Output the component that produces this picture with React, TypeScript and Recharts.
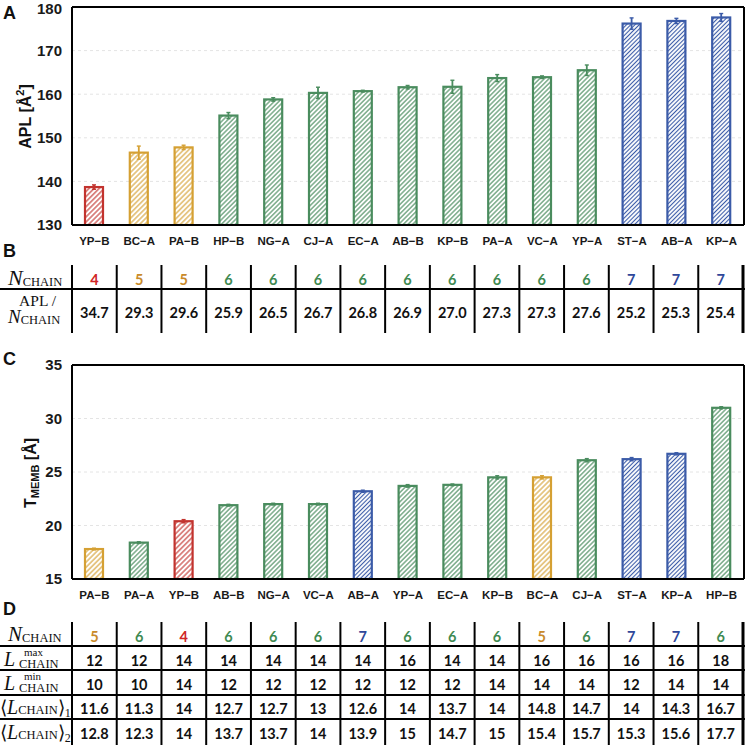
import React from 'react';
import { BarChart, Bar, XAxis, YAxis, CartesianGrid } from 'recharts';

// ---------- Panel A / B data ----------
const catsA = ['YP−B', 'BC−A', 'PA−B', 'HP−B', 'NG−A', 'CJ−A', 'EC−A', 'AB−B', 'KP−B', 'PA−A', 'VC−A', 'YP−A', 'ST−A', 'AB−A', 'KP−A'];
const aplValues = [138.7, 146.6, 147.8, 155.1, 158.8, 160.3, 160.7, 161.6, 161.7, 163.7, 163.9, 165.5, 176.2, 176.8, 177.6];
const aplErrors = [0.5, 1.5, 0.5, 0.7, 0.4, 1.3, 0.2, 0.4, 1.5, 0.8, 0.3, 1.2, 1.3, 0.6, 0.9];
const nChainA = [4, 5, 5, 6, 6, 6, 6, 6, 6, 6, 6, 6, 7, 7, 7];
const aplPerChain = ['34.7', '29.3', '29.6', '25.9', '26.5', '26.7', '26.8', '26.9', '27.0', '27.3', '27.3', '27.6', '25.2', '25.3', '25.4'];
const aplTicks = [130, 140, 150, 160, 170, 180];

// ---------- Panel C / D data ----------
const catsC = ['PA−B', 'PA−A', 'YP−B', 'AB−B', 'NG−A', 'VC−A', 'AB−A', 'YP−A', 'EC−A', 'KP−B', 'BC−A', 'CJ−A', 'ST−A', 'KP−A', 'HP−B'];
const tmembValues = [17.8, 18.4, 20.4, 21.9, 22.0, 22.0, 23.2, 23.7, 23.8, 24.5, 24.5, 26.1, 26.2, 26.7, 31.0];
const tmembErrors = [0.08, 0.08, 0.15, 0.08, 0.08, 0.08, 0.1, 0.12, 0.08, 0.15, 0.15, 0.15, 0.15, 0.1, 0.1];
const nChainC = [5, 6, 4, 6, 6, 6, 7, 6, 6, 6, 5, 6, 7, 7, 6];
const lMax = ['12', '12', '14', '14', '14', '14', '14', '16', '14', '14', '16', '16', '16', '16', '18'];
const lMin = ['10', '10', '14', '12', '12', '12', '12', '12', '12', '14', '14', '14', '12', '14', '14'];
const lAvg1 = ['11.6', '11.3', '14', '12.7', '12.7', '13', '12.6', '14', '13.7', '14', '14.8', '14.7', '14', '14.3', '16.7'];
const lAvg2 = ['12.8', '12.3', '14', '13.7', '13.7', '14', '13.9', '15', '14.7', '15', '15.4', '15.7', '15.3', '15.6', '17.7'];
const tmembTicks = [15, 20, 25, 30, 35];

// ---------- styles ----------
const BAR_COLORS: Record<number, string> = { 4: '#c2332e', 5: '#d5a033', 6: '#4a8c5e', 7: '#3b5ba8' };
const TEXT_COLORS: Record<number, string> = { 4: '#d02626', 5: '#c98a2a', 6: '#3f8a52', 7: '#2f479a' };
const HATCH: Record<number, number> = { 4: 3.6, 5: 3.6, 6: 3.3, 7: 3.0 };

const W = 747;
const H = 745;
const PLOT_L = 72;
const PLOT_R = 743;
const NCOL = 15;
const BAND = (PLOT_R - PLOT_L) / NCOL;
const colX = (i: number) => PLOT_L + (i + 0.5) * BAND;

const dataA = catsA.map((name, i) => ({ name, value: aplValues[i], err: aplErrors[i], n: nChainA[i] }));
const dataC = catsC.map((name, i) => ({ name, value: tmembValues[i], err: tmembErrors[i], n: nChainC[i] }));

const makeBarShape = (domainMin: number) => (props: any) => {
  const { x, y, width, height, payload } = props;
  if (height == null || width == null) return <g />;
  const color = BAR_COLORS[payload.n];
  const ppu = height / (payload.value - domainMin);
  const e = payload.err * ppu;
  const cx = x + width / 2;
  return (
    <g>
      <rect x={x} y={y} width={width} height={height} fill={`url(#hatch-${payload.n})`} stroke={color} strokeWidth={2.2} />
      <line x1={cx} x2={cx} y1={y - e} y2={y + e} stroke={color} strokeWidth={1.8} />
      <line x1={cx - 2} x2={cx + 2} y1={y - e} y2={y - e} stroke={color} strokeWidth={1.4} />
      <line x1={cx - 2} x2={cx + 2} y1={y + e} y2={y + e} stroke={color} strokeWidth={1.4} />
    </g>
  );
};

const HatchDefs = () => (
  <svg width={0} height={0} style={{ position: 'absolute', left: 0, top: 0 }}>
    <defs>
      {[4, 5, 6, 7].map((n) => (
        <pattern key={n} id={`hatch-${n}`} patternUnits="userSpaceOnUse" width={HATCH[n]} height={HATCH[n]} patternTransform="rotate(45)">
          <rect width={HATCH[n]} height={HATCH[n]} fill="#fff" />
          <line x1={HATCH[n] / 2} y1={0} x2={HATCH[n] / 2} y2={HATCH[n]} stroke={BAR_COLORS[n]} strokeWidth={1.1} />
        </pattern>
      ))}
    </defs>
  </svg>
);

const axisStroke = { stroke: '#000', strokeWidth: 2 };

function Panel(props: { data: any[]; domain: [number, number]; ticks: number[]; top: number; height: number; marginTop: number; xHeight: number }) {
  const { data, domain, ticks, top, height, marginTop, xHeight } = props;
  return (
    <div style={{ position: 'absolute', left: 0, top, width: W, height }}>
      <BarChart width={W} height={height} data={data} margin={{ top: marginTop, right: W - PLOT_R - 1, bottom: 0, left: 0 }} barCategoryGap={0}>
        <CartesianGrid vertical={false} stroke="#e4e4e4" strokeDasharray="3 3" />
        <XAxis
          dataKey="name"
          interval={0}
          height={xHeight}
          axisLine={axisStroke}
          tickLine={false}
          tickSize={0}
          tickMargin={12}
          tick={{ fontFamily: 'Liberation Sans', fontWeight: 700, fontSize: 11.5, fill: '#1a1a1a' }}
        />
        <XAxis
          dataKey="name"
          xAxisId="top"
          orientation="top"
          mirror
          height={1}
          interval={0}
          tick={false}
          tickSize={4}
          tickLine={{ stroke: '#000', strokeWidth: 1.5 }}
          axisLine={axisStroke}
        />
        <YAxis
          type="number"
          domain={domain}
          ticks={ticks}
          allowDataOverflow
          width={PLOT_L}
          axisLine={axisStroke}
          tickLine={false}
          tickSize={0}
          tickMargin={10}
          tick={{ fontFamily: 'Liberation Sans', fontWeight: 700, fontSize: 15, fill: '#1a1a1a' }}
        />
        <YAxis
          yAxisId="r"
          orientation="right"
          mirror
          type="number"
          domain={domain}
          ticks={ticks}
          allowDataOverflow
          width={1}
          tick={false}
          tickSize={4}
          tickLine={{ stroke: '#000', strokeWidth: 1.5 }}
          axisLine={axisStroke}
        />
        <Bar dataKey="value" barSize={18} shape={makeBarShape(domain[0])} isAnimationActive={false} />
      </BarChart>
    </div>
  );
}

const serif = 'Liberation Serif';
const valFont = { fontFamily: 'Lato', fontWeight: 700, fontSize: 14.5 } as const;

function NChainLabel({ x, y, nSize = 22 }: { x: number; y: number; nSize?: number }) {
  return (
    <text x={x} y={y} fontFamily={serif} fill="#111">
      <tspan fontStyle="italic" fontSize={nSize}>N</tspan>
      <tspan fontSize={12.5} dy={1}>CHAIN</tspan>
    </text>
  );
}

function LLabel({ y, sup }: { y: number; sup: string }) {
  return (
    <text x={4} y={y} fontFamily={serif} fill="#111">
      <tspan fontStyle="italic" fontSize={20}>L</tspan>
      <tspan x={24} dy={-10} fontSize={11}>{sup}</tspan>
      <tspan x={19} dy={11.5} fontSize={12.5}>CHAIN</tspan>
    </text>
  );
}

function Overlay() {
  const vlinesB = Array.from({ length: NCOL + 1 }, (_, k) => PLOT_L + k * BAND);
  const hLinesD = [646, 670, 695, 719];
  return (
    <svg width={W} height={H} style={{ position: 'absolute', left: 0, top: 0, pointerEvents: 'none' }}>
      {/* panel letters */}
      <g fontFamily="Liberation Sans" fontWeight={700} fontSize={18} fill="#111">
        <text x={3} y={19}>A</text>
        <text x={3} y={257}>B</text>
        <text x={3} y={365}>C</text>
        <text x={3} y={615}>D</text>
      </g>

      {/* axis titles */}
      <text transform="rotate(-90 31 116.5)" x={31} y={116.5} textAnchor="middle" fontFamily="Liberation Sans" fontWeight={700} fontSize={16} fill="#111">
        <tspan>APL [Å</tspan>
        <tspan fontSize={11} dy={-7}>2</tspan>
        <tspan dy={7}>]</tspan>
      </text>
      <text transform="rotate(-90 36 473)" x={36} y={473} textAnchor="middle" fontFamily="Liberation Sans" fontWeight={700} fontSize={16} fill="#111">
        <tspan>T</tspan>
        <tspan fontSize={11} dy={3}>MEMB</tspan>
        <tspan dy={-3}> [Å]</tspan>
      </text>

      {/* ---------- Table B ---------- */}
      {vlinesB.map((x, k) => (
        <line key={`bv${k}`} x1={x} x2={x} y1={265} y2={333} stroke="#000" strokeWidth={k === NCOL ? 3 : 2} />
      ))}
      <line x1={0} x2={745} y1={289} y2={289} stroke="#000" strokeWidth={2} />
      <NChainLabel x={8} y={285} />
      <text x={56} y={306} textAnchor="end" fontFamily={serif} fontSize={15.5} fill="#111">APL /</text>
      <NChainLabel x={8} y={323} nSize={19} />
      {nChainA.map((n, i) => (
        <text key={`bn${i}`} x={colX(i)} y={285} textAnchor="middle" {...valFont} fill={TEXT_COLORS[n]}>{n}</text>
      ))}
      {aplPerChain.map((v, i) => (
        <text key={`ba${i}`} x={colX(i)} y={318} textAnchor="middle" {...valFont} fill="#111">{v}</text>
      ))}

      {/* ---------- Table D ---------- */}
      {vlinesB.map((x, k) => (
        <line key={`dv${k}`} x1={x} x2={x} y1={622} y2={745} stroke="#000" strokeWidth={k === NCOL ? 3 : 2} />
      ))}
      {hLinesD.map((y, k) => (
        <line key={`dh${k}`} x1={0} x2={745} y1={y} y2={y} stroke="#000" strokeWidth={2} />
      ))}
      <NChainLabel x={8} y={641} nSize={21} />
      <LLabel y={666} sup="max" />
      <LLabel y={690} sup="min" />
      <text x={0} y={714} fontFamily={serif} fill="#111">
        <tspan fontSize={19}>⟨</tspan>
        <tspan fontStyle="italic" fontSize={20}>L</tspan>
        <tspan fontSize={12.5}>CHAIN</tspan>
        <tspan fontSize={19}>⟩</tspan>
        <tspan fontSize={12} dy={3}>1</tspan>
      </text>
      <text x={0} y={739} fontFamily={serif} fill="#111">
        <tspan fontSize={19}>⟨</tspan>
        <tspan fontStyle="italic" fontSize={20}>L</tspan>
        <tspan fontSize={12.5}>CHAIN</tspan>
        <tspan fontSize={19}>⟩</tspan>
        <tspan fontSize={12} dy={3}>2</tspan>
      </text>
      {nChainC.map((n, i) => (
        <text key={`dn${i}`} x={colX(i)} y={642} textAnchor="middle" {...valFont} fill={TEXT_COLORS[n]}>{n}</text>
      ))}
      {lMax.map((v, i) => (
        <text key={`dx${i}`} x={colX(i)} y={666} textAnchor="middle" {...valFont} fill="#111">{v}</text>
      ))}
      {lMin.map((v, i) => (
        <text key={`dm${i}`} x={colX(i)} y={690} textAnchor="middle" {...valFont} fill="#111">{v}</text>
      ))}
      {lAvg1.map((v, i) => (
        <text key={`d1${i}`} x={colX(i)} y={714} textAnchor="middle" {...valFont} fill="#111">{v}</text>
      ))}
      {lAvg2.map((v, i) => (
        <text key={`d2${i}`} x={colX(i)} y={739} textAnchor="middle" {...valFont} fill="#111">{v}</text>
      ))}
    </svg>
  );
}

export default function App() {
  return (
    <div style={{ position: 'absolute', left: 0, top: 0, width: W, height: H, background: '#fff', overflow: 'hidden' }}>
      <HatchDefs />
      <Panel data={dataA} domain={[130, 180]} ticks={aplTicks} top={0} height={250} marginTop={7} xHeight={25} />
      <Panel data={dataC} domain={[15, 35]} ticks={tmembTicks} top={330} height={290} marginTop={35} xHeight={41} />
      <Overlay />
    </div>
  );
}
